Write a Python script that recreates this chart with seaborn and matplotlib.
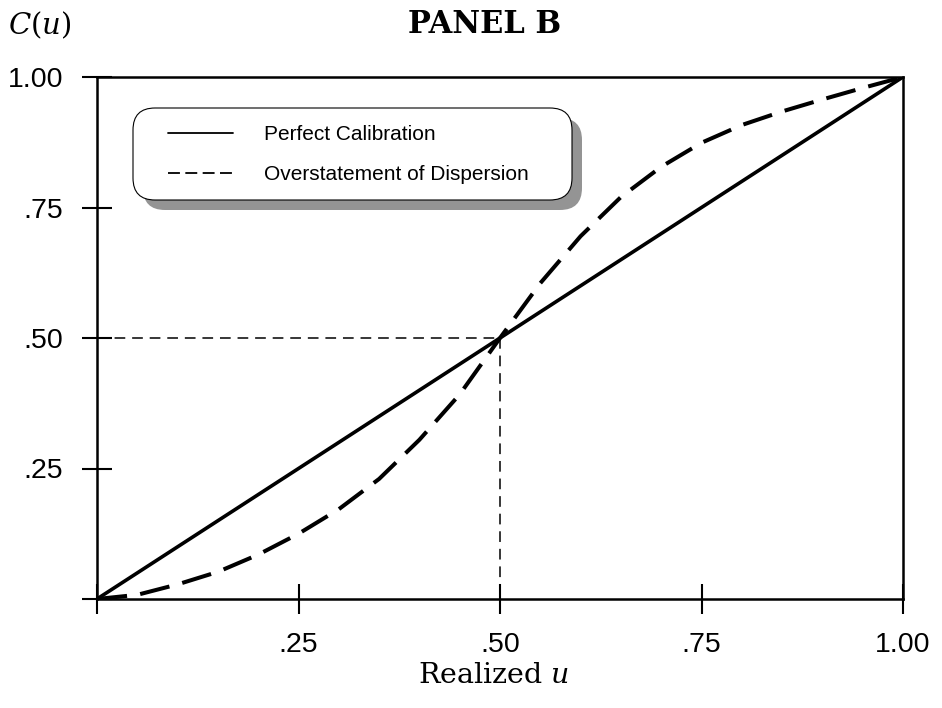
import numpy as np
import pandas as pd
import seaborn as sns
import matplotlib.pyplot as plt
from matplotlib.lines import Line2D
from matplotlib.patches import FancyBboxPatch

# data
u_vals = [0.00, 0.05, 0.10, 0.15, 0.20, 0.25, 0.30, 0.35, 0.40, 0.45, 0.50,
          0.55, 0.60, 0.65, 0.70, 0.75, 0.80, 0.85, 0.90, 0.95, 1.00]
overstated = [0.000, 0.008, 0.028, 0.052, 0.085, 0.125, 0.172, 0.230, 0.305, 0.392, 0.500,
              0.605, 0.695, 0.770, 0.828, 0.874, 0.908, 0.934, 0.957, 0.979, 1.000]
perfect_u = [0.0, 1.0]
perfect_c = [0.0, 1.0]
ref_h_x = [0.0, 0.5]
ref_h_y = [0.5, 0.5]
ref_v_x = [0.5, 0.5]
ref_v_y = [0.5, 0.0]
tick_vals = [0.0, 0.25, 0.50, 0.75, 1.00]
tick_labels = ["", ".25", ".50", ".75", "1.00"]
legend_labels = ["Perfect Calibration", "Overstatement of Dispersion"]

sns.set_style("white")
plt.rcParams["font.family"] = ["Liberation Sans", "DejaVu Sans"]
plt.rcParams["mathtext.fontset"] = "dejavuserif"
plt.rcParams["text.color"] = "black"

df = pd.DataFrame({"u": u_vals, "c": overstated})

fig = plt.figure(figsize=(9.42, 7.08), dpi=100)
ax = fig.add_axes([97 / 942, 1 - 599 / 708, 806 / 942, 522 / 708])

# reference lines at .50
sns.lineplot(x=ref_h_x, y=ref_h_y, ax=ax, color="black", lw=1.1,
             linestyle=(0, (7, 4.5)), estimator=None, sort=False)
sns.lineplot(x=ref_v_x, y=ref_v_y, ax=ax, color="black", lw=1.1,
             linestyle=(0, (7, 4.5)), estimator=None, sort=False)

# perfect calibration
sns.lineplot(x=perfect_u, y=perfect_c, ax=ax, color="black", lw=2.6,
             estimator=None, sort=False)

# overstatement of dispersion
sns.lineplot(data=df, x="u", y="c", ax=ax, color="black", lw=2.9,
             linestyle=(0, (7.5, 3.3)), estimator=None, sort=False)

ax.set_xlim(0, 1)
ax.set_ylim(0, 1)
ax.set_xticks(tick_vals)
ax.set_xticklabels(tick_labels)
ax.set_yticks(tick_vals)
ax.set_yticklabels(tick_labels)
ax.set_xlabel("")
ax.set_ylabel("")
ax.tick_params(axis="both", direction="inout", length=21, width=1.5,
               colors="black", labelsize=20.5)
ax.tick_params(axis="x", pad=13, bottom=True)
ax.tick_params(axis="y", pad=14, left=True)
for sp in ax.spines.values():
    sp.set_linewidth(1.8)
    sp.set_color("black")

# legend box with shadow
shadow = FancyBboxPatch((1.43, 4.98), 4.39, 0.92,
                        boxstyle="round,pad=0,rounding_size=0.22",
                        transform=fig.dpi_scale_trans, facecolor="0.58",
                        edgecolor="none", zorder=3, clip_on=False)
box = FancyBboxPatch((1.33, 5.08), 4.39, 0.92,
                     boxstyle="round,pad=0,rounding_size=0.22",
                     transform=fig.dpi_scale_trans, facecolor="white",
                     edgecolor="black", lw=0.8, zorder=4, clip_on=False)
ax.add_patch(shadow)
ax.add_patch(box)

handles = [Line2D([], [], color="black", lw=1.3),
           Line2D([], [], color="black", lw=1.3, linestyle=(0, (6.6, 3.0)))]
leg = ax.legend(handles, legend_labels, loc="upper left",
                bbox_to_anchor=(1.68, 5.825), bbox_transform=fig.dpi_scale_trans,
                frameon=False, borderpad=0, borderaxespad=0, fontsize=15,
                handlelength=3.1, handletextpad=1.5, labelspacing=1.0)
leg.set_zorder(6)

fig.text(40 / 942, 1 - 25 / 708, r"$C(u)$", ha="center", va="center", fontsize=21)
fig.text(485 / 942, 1 - 33 / 708, "PANEL B", ha="center", va="baseline",
         fontsize=22, fontweight="bold", family="DejaVu Serif")
fig.text(494 / 942, 1 - 683 / 708, r"Realized $u$", ha="center", va="baseline",
         fontsize=20.5, family="DejaVu Serif")

fig.savefig("out.png", dpi=100)
